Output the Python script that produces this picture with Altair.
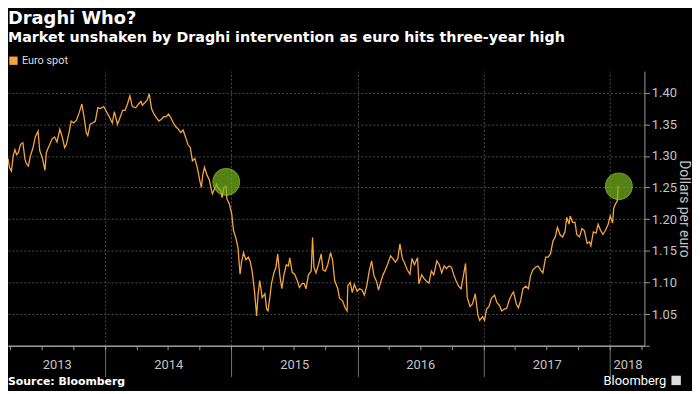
import altair as alt
import pandas as pd

# ---------------- data ----------------
dates = [
    "2013-03-25", "2013-03-29", "2013-04-04", "2013-04-09", "2013-04-14", "2013-04-19", "2013-04-24", "2013-04-30",
    "2013-05-07", "2013-05-13", "2013-05-17", "2013-05-23", "2013-05-29", "2013-06-05", "2013-06-12", "2013-06-20",
    "2013-06-25", "2013-07-02", "2013-07-10", "2013-07-14", "2013-07-19", "2013-07-24", "2013-07-31", "2013-08-07",
    "2013-08-14", "2013-08-22", "2013-08-29", "2013-09-05", "2013-09-10", "2013-09-17", "2013-09-24", "2013-10-01",
    "2013-10-09", "2013-10-17", "2013-10-25", "2013-10-31", "2013-11-07", "2013-11-11", "2013-11-18", "2013-11-25",
    "2013-12-03", "2013-12-10", "2013-12-18", "2013-12-27", "2014-01-08", "2014-01-14", "2014-01-21", "2014-01-27",
    "2014-02-05", "2014-02-12", "2014-02-20", "2014-02-27", "2014-03-06", "2014-03-13", "2014-03-20", "2014-03-30",
    "2014-04-07", "2014-04-14", "2014-04-18", "2014-04-25", "2014-05-02", "2014-05-08", "2014-05-15", "2014-05-22",
    "2014-05-29", "2014-06-05", "2014-06-12", "2014-06-19", "2014-06-26", "2014-07-03", "2014-07-10", "2014-07-17",
    "2014-07-24", "2014-08-01", "2014-08-07", "2014-08-14", "2014-08-21", "2014-08-28", "2014-09-04", "2014-09-10",
    "2014-09-17", "2014-09-24", "2014-10-01", "2014-10-06", "2014-10-10", "2014-10-15", "2014-10-22", "2014-10-29",
    "2014-11-04", "2014-11-07", "2014-11-13", "2014-11-19", "2014-11-24", "2014-12-01", "2014-12-05", "2014-12-10",
    "2014-12-16", "2014-12-19", "2014-12-26", "2015-01-02", "2015-01-07", "2015-01-14", "2015-01-20", "2015-01-26",
    "2015-01-30", "2015-02-05", "2015-02-12", "2015-02-19", "2015-02-24", "2015-03-02", "2015-03-09", "2015-03-15",
    "2015-03-19", "2015-03-24", "2015-03-31", "2015-04-08", "2015-04-13", "2015-04-17", "2015-04-22", "2015-04-27",
    "2015-05-04", "2015-05-10", "2015-05-15", "2015-05-21", "2015-05-27", "2015-06-02", "2015-06-09", "2015-06-15",
    "2015-06-19", "2015-06-26", "2015-07-03", "2015-07-10", "2015-07-17", "2015-07-24", "2015-07-31", "2015-08-05",
    "2015-08-12", "2015-08-20", "2015-08-24", "2015-08-28", "2015-09-03", "2015-09-10", "2015-09-18", "2015-09-23",
    "2015-09-30", "2015-10-07", "2015-10-15", "2015-10-21", "2015-10-27", "2015-11-05", "2015-11-10", "2015-11-19",
    "2015-11-26", "2015-12-02", "2015-12-04", "2015-12-11", "2015-12-17", "2015-12-23", "2015-12-31", "2016-01-07",
    "2016-01-14", "2016-01-21", "2016-01-28", "2016-02-04", "2016-02-11", "2016-02-18", "2016-02-25", "2016-03-02",
    "2016-03-08", "2016-03-15", "2016-03-22", "2016-03-29", "2016-04-06", "2016-04-12", "2016-04-20", "2016-04-27",
    "2016-05-03", "2016-05-10", "2016-05-17", "2016-05-24", "2016-06-01", "2016-06-07", "2016-06-14", "2016-06-23",
    "2016-06-27", "2016-07-05", "2016-07-12", "2016-07-19", "2016-07-26", "2016-08-02", "2016-08-09", "2016-08-18",
    "2016-08-25", "2016-09-01", "2016-09-08", "2016-09-15", "2016-09-22", "2016-09-29", "2016-10-06", "2016-10-13",
    "2016-10-20", "2016-10-27", "2016-11-02", "2016-11-09", "2016-11-14", "2016-11-22", "2016-11-29", "2016-12-07",
    "2016-12-15", "2016-12-20", "2016-12-28", "2017-01-03", "2017-01-09", "2017-01-16", "2017-01-23", "2017-02-01",
    "2017-02-08", "2017-02-15", "2017-02-22", "2017-03-01", "2017-03-08", "2017-03-16", "2017-03-24", "2017-03-28",
    "2017-04-05", "2017-04-11", "2017-04-18", "2017-04-24", "2017-05-02", "2017-05-10", "2017-05-16", "2017-05-23",
    "2017-05-31", "2017-06-07", "2017-06-14", "2017-06-21", "2017-06-29", "2017-07-06", "2017-07-13", "2017-07-20",
    "2017-07-27", "2017-08-02", "2017-08-10", "2017-08-17", "2017-08-24", "2017-08-29", "2017-09-05", "2017-09-08",
    "2017-09-15", "2017-09-22", "2017-09-27", "2017-10-05", "2017-10-12", "2017-10-19", "2017-10-27", "2017-11-03",
    "2017-11-07", "2017-11-14", "2017-11-22", "2017-11-28", "2017-12-05", "2017-12-12", "2017-12-19", "2017-12-27",
    "2018-01-02", "2018-01-09", "2018-01-12", "2018-01-17", "2018-01-22", "2018-01-24", "2018-01-25",
]
euro_spot = [
    1.296, 1.282, 1.276, 1.300, 1.310, 1.302, 1.305, 1.318,
    1.321, 1.295, 1.288, 1.284, 1.300, 1.312, 1.330, 1.339,
    1.308, 1.298, 1.277, 1.305, 1.312, 1.318, 1.327, 1.330,
    1.322, 1.342, 1.330, 1.313, 1.318, 1.335, 1.355, 1.352,
    1.356, 1.368, 1.382, 1.362, 1.336, 1.332, 1.350, 1.352,
    1.355, 1.376, 1.375, 1.378, 1.366, 1.360, 1.352, 1.370,
    1.350, 1.360, 1.372, 1.372, 1.382, 1.395, 1.378, 1.376,
    1.382, 1.386, 1.380, 1.384, 1.388, 1.398, 1.374, 1.366,
    1.360, 1.355, 1.358, 1.362, 1.362, 1.366, 1.360, 1.352,
    1.346, 1.342, 1.337, 1.341, 1.330, 1.318, 1.313, 1.292,
    1.296, 1.282, 1.262, 1.250, 1.270, 1.282, 1.270, 1.262,
    1.246, 1.240, 1.248, 1.255, 1.248, 1.246, 1.234, 1.250,
    1.252, 1.232, 1.224, 1.208, 1.182, 1.170, 1.155, 1.113,
    1.131, 1.147, 1.136, 1.140, 1.134, 1.118, 1.085, 1.047,
    1.080, 1.103, 1.076, 1.082, 1.058, 1.055, 1.075, 1.098,
    1.115, 1.124, 1.145, 1.112, 1.090, 1.112, 1.128, 1.126,
    1.139, 1.116, 1.113, 1.104, 1.092, 1.098, 1.098, 1.090,
    1.112, 1.118, 1.171, 1.124, 1.115, 1.128, 1.145, 1.120,
    1.118, 1.128, 1.147, 1.135, 1.103, 1.090, 1.075, 1.071,
    1.060, 1.055, 1.095, 1.100, 1.084, 1.097, 1.086, 1.090,
    1.088, 1.080, 1.095, 1.118, 1.134, 1.110, 1.102, 1.088,
    1.100, 1.112, 1.120, 1.130, 1.142, 1.138, 1.132, 1.138,
    1.161, 1.138, 1.130, 1.120, 1.113, 1.138, 1.128, 1.139,
    1.098, 1.112, 1.106, 1.102, 1.099, 1.118, 1.112, 1.134,
    1.128, 1.115, 1.126, 1.122, 1.126, 1.124, 1.112, 1.102,
    1.094, 1.090, 1.108, 1.130, 1.076, 1.062, 1.066, 1.082,
    1.048, 1.040, 1.046, 1.040, 1.058, 1.062, 1.075, 1.080,
    1.068, 1.064, 1.055, 1.058, 1.059, 1.073, 1.082, 1.085,
    1.066, 1.060, 1.072, 1.090, 1.094, 1.090, 1.110, 1.120,
    1.124, 1.126, 1.120, 1.115, 1.140, 1.140, 1.145, 1.165,
    1.172, 1.187, 1.175, 1.172, 1.180, 1.203, 1.192, 1.205,
    1.195, 1.195, 1.176, 1.172, 1.185, 1.182, 1.162, 1.164,
    1.158, 1.180, 1.178, 1.192, 1.182, 1.176, 1.182, 1.192,
    1.205, 1.194, 1.217, 1.224, 1.228, 1.242, 1.253,
]
series_name = "Euro spot"

circle_dates = ["2014-12-17", "2018-01-27"]
circle_values = [1.259, 1.252]

y_ticks = [1.00, 1.05, 1.10, 1.15, 1.20, 1.25, 1.30, 1.35, 1.40]
year_starts = ["2014-01-01", "2015-01-01", "2016-01-01", "2017-01-01", "2018-01-01"]
quarter_starts = [
    "2013-04-01", "2013-07-01", "2013-10-01", "2014-01-01", "2014-04-01", "2014-07-01", "2014-10-01",
    "2015-01-01", "2015-04-01", "2015-07-01", "2015-10-01", "2016-01-01", "2016-04-01", "2016-07-01",
    "2016-10-01", "2017-01-01", "2017-04-01", "2017-07-01", "2017-10-01", "2018-01-01", "2018-04-01",
]
year_labels = ["2013", "2014", "2015", "2016", "2017", "2018"]
year_label_dates = ["2013-08-13", "2014-07-02", "2015-07-02", "2016-07-01", "2017-07-02", "2018-02-21"]
x_domain = ["2013-03-25", "2018-04-11"]

title_text = "Draghi Who?"
subtitle_text = "Market unshaken by Draghi intervention as euro hits three-year high"
source_text = "Source: Bloomberg"
logo_text = "Bloomberg"
y_title = "Dollars per euro"

# ---------------- styling ----------------
ORANGE = "#f5a540"
GRID = "#4d4d4d"
AXIS = "#9a9a9a"
LABEL = "#c4c4c4"
TEXT_FONT = "DejaVu Sans"
AX_FONT = "Roboto"


def dt(s):
    y, m, d = (int(v) for v in s.split("-"))
    return alt.DateTime(year=y, month=m, date=d)


x_scale = alt.Scale(domain=[dt(x_domain[0]), dt(x_domain[1])])
y_scale = alt.Scale(domain=[1.0, 1.434], nice=False, zero=False)

y_axis = alt.Axis(
    orient="right",
    values=y_ticks,
    labelExpr="datum.value < 1.01 ? '' : format(datum.value, '.2f')",
    grid=True,
    gridColor=GRID,
    gridDash=[2, 2],
    gridWidth=1,
    domain=True,
    domainColor=AXIS,
    ticks=True,
    tickColor=AXIS,
    tickSize=5,
    labelColor=LABEL,
    labelFont=AX_FONT,
    labelFontSize=13,
    labelPadding=2,
    title=y_title,
    titleColor=LABEL,
    titleFont=AX_FONT,
    titleFontSize=14,
    titleFontWeight="normal",
    titlePadding=0,
)

line_df = pd.DataFrame({"date": pd.to_datetime(dates), "value": euro_spot, "series": series_name})
circle_df = pd.DataFrame({"date": pd.to_datetime(circle_dates), "value": circle_values})
year_df = pd.DataFrame({"date": pd.to_datetime(year_starts)})

# year boundary gridlines + long separator ticks
year_layer = alt.Chart(year_df).mark_point(opacity=0).encode(
    x=alt.X(
        "date:T",
        scale=x_scale,
        axis=alt.Axis(
            orient="bottom",
            values=[dt(d) for d in year_starts],
            grid=True,
            gridColor=GRID,
            gridDash=[2, 2],
            labels=False,
            domain=False,
            ticks=True,
            tickSize=31,
            tickColor="#6e6e6e",
            title=None,
        ),
    )
)

line_layer = alt.Chart(line_df).mark_line(strokeWidth=1.3, clip=True).encode(
    x=alt.X(
        "date:T",
        scale=x_scale,
        axis=alt.Axis(
            orient="bottom",
            values=[dt(d) for d in quarter_starts],
            grid=False,
            labels=False,
            domain=True,
            domainColor=AXIS,
            domainWidth=1.5,
            ticks=True,
            tickSize=4,
            tickColor=AXIS,
            title=None,
        ),
    ),
    y=alt.Y("value:Q", scale=y_scale, axis=y_axis),
    color=alt.Color(
        "series:N",
        scale=alt.Scale(range=[ORANGE]),
        legend=alt.Legend(
            orient="none",
            legendX=0,
            legendY=-16,
            title=None,
            symbolType="square",
            symbolSize=70,
            symbolFillColor=ORANGE,
            symbolStrokeWidth=0,
            labelColor="#dddddd",
            labelFont=AX_FONT,
            labelFontSize=11,
            labelOffset=3,
        ),
    ),
)

circle_layer = alt.Chart(circle_df).mark_circle(
    size=720, color="#77b41c", opacity=0.72, stroke="#93d12e", strokeWidth=1.2
).encode(
    x=alt.X(
        "date:T",
        scale=x_scale,
        axis=alt.Axis(
            orient="bottom",
            values=[dt(d) for d in year_label_dates],
            labelExpr="timeFormat(datum.value, '%Y')",
            ticks=False,
            tickSize=0,
            domain=False,
            grid=False,
            labelColor=LABEL,
            labelFont=AX_FONT,
            labelFontSize=13,
            labelPadding=13,
            labelFlush=False,
            labelOverlap=False,
            title=None,
        ),
    ),
    y=alt.Y("value:Q", scale=y_scale, axis=y_axis),
)


def text_layer(txt, x, y, size, weight="normal", color="#ffffff", align="left", font=TEXT_FONT):
    return alt.Chart(pd.DataFrame({"t": [txt]})).mark_text(
        align=align, baseline="middle", fontSize=size, fontWeight=weight, color=color, font=font
    ).encode(x=alt.value(x), y=alt.value(y), text="t:N")


title_layer = text_layer(title_text, 0, -53, 18, "bold")
subtitle_layer = text_layer(subtitle_text, 0, -33, 14.4, "bold")
source_layer = text_layer(source_text, 0, 314, 11, "bold")
logo_layer = text_layer(logo_text, 664, 313, 13, "normal", font=AX_FONT, align="right")
logo_icon = alt.Chart(pd.DataFrame({"t": [logo_text]})).mark_square(
    size=90, color="#dddddd", opacity=1
).encode(x=alt.value(674), y=alt.value(312))

chart = (
    alt.layer(
        year_layer,
        line_layer,
        circle_layer,
        title_layer,
        subtitle_layer,
        source_layer,
        logo_layer,
        logo_icon,
    )
    .resolve_scale(x="independent", y="shared")
    .properties(
        width=642,
        height=277,
        autosize=alt.AutoSizeParams(type="none"),
        padding={"left": 0, "top": 62, "right": 48, "bottom": 44},
        background="#000000",
    )
    .configure_view(stroke=None)
)

chart.save("out.html", embed_options={"renderer": "svg", "actions": False})
